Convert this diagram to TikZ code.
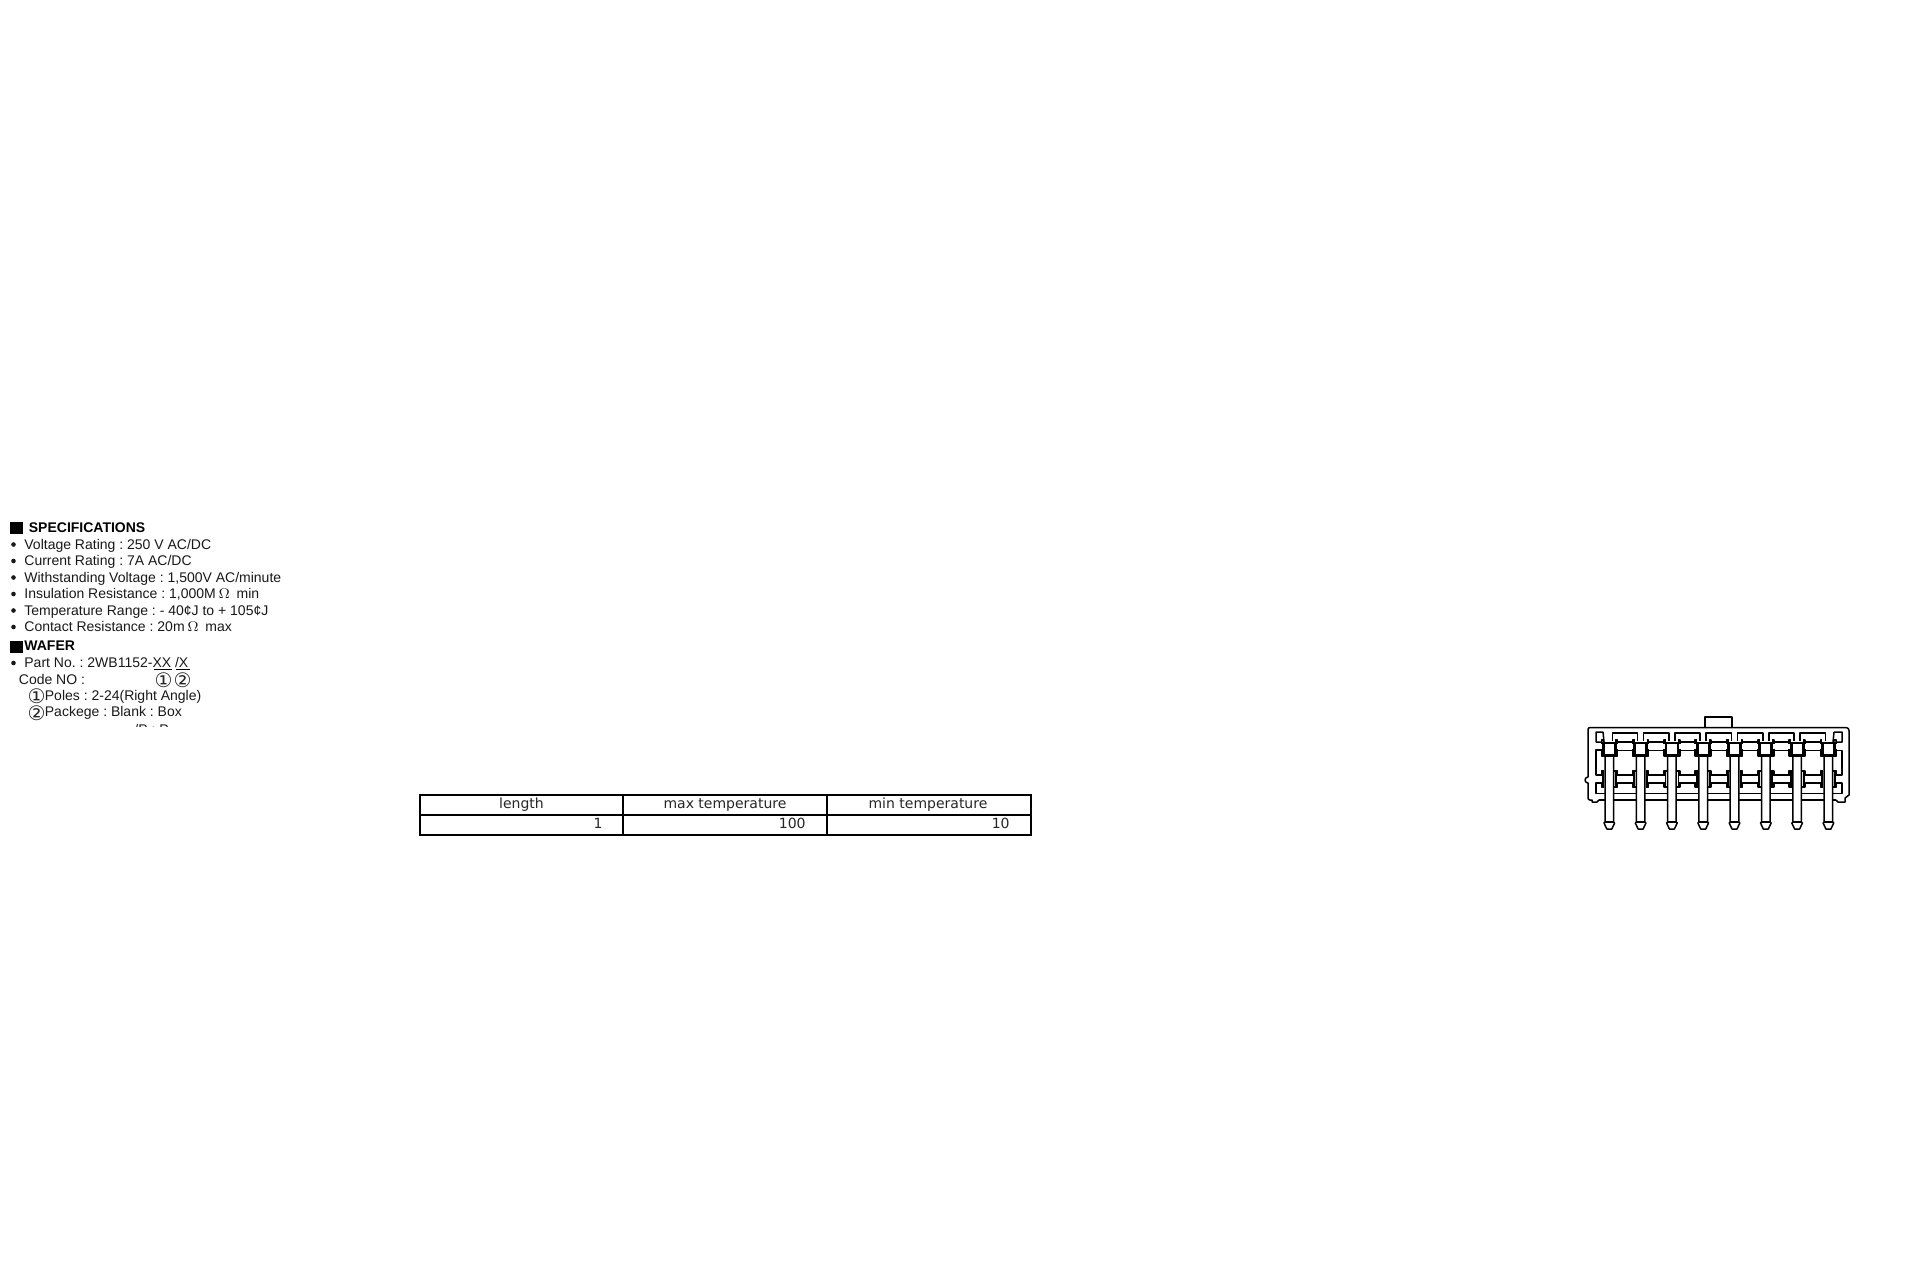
\documentclass[tikz,border=0pt]{standalone}
\usepackage{fontspec}
\setmainfont{Liberation Sans}
\newfontfamily\djv{DejaVu Sans}
\frenchspacing
\tikzset{
  spec/.style={anchor=base west,inner sep=0pt,font=\fontsize{7}{8}\selectfont,text=black!90},
  head/.style={anchor=base west,inner sep=0pt,font=\fontsize{7}{8}\selectfont\bfseries},
  cell/.style={inner sep=0pt,font=\djv\fontsize{7}{8}\selectfont,text=black!85},
  circ/.style={inner sep=0pt,font=\djv\fontsize{10}{10}\selectfont,text=black!85},
  bul/.style={circle,fill=black!90,inner sep=0pt,minimum size=2.3pt},
  part/.style={draw=black,line width=.75pt,line join=round},
  pinbody/.style={draw=black,fill=white,line width=.75pt,line join=round},
}
\begin{document}
\begin{tikzpicture}[x=.5pt,y=-.5pt]
\useasboundingbox[fill=white] (0,0) rectangle (1920,1280);
% text block
\fill[black] (10,522) rectangle (23,534);
\node[head] (t0) at (28.5,532.5) {SPECIFICATIONS};
\foreach \y/\t in {549/{Voltage Rating : 250 V AC/DC},565.5/{Current Rating : 7A AC/DC},582/{Withstanding Voltage : 1,500V AC/minute},598.5/{Insulation Resistance : 1,000M$\,\Omega\,$ min},615/{Temperature Range : - 40¢J to + 105¢J},631.5/{Contact Resistance : 20m$\,\Omega\,$ max}}{
  \node[bul] at (13.5,\y-4.5) {};
  \node[spec] at (24,\y) {\t};
}
\fill[black] (10,641) rectangle (23,653);
\node[head] (t1) at (24,650.5) {WAFER};
\node[bul] at (13.5,663) {};
\node[spec] (pn) at (24,667.5) {Part No. : 2WB1152-XX /X};
\draw[line width=.5pt] (154,669.5) -- (172,669.5) (176,669.5) -- (190,669.5);
\node[spec] at (18.5,684) {Code NO :};
\node[circ] at (163.5,680) {①};
\node[circ] at (182.5,680) {②};
\node[circ] at (36.5,696) {①};
\node[spec] at (44.5,700.5) {Poles : 2-24(Right Angle)};
\node[circ] at (36.5,713) {②};
\node[spec] at (44.5,716.5) {Packege : Blank : Box};
\begin{scope}
\clip (0,722) rectangle (300,726);
\node[spec] at (134,734) {/P : P};
\end{scope}
% table
\draw[line width=1pt] (420,795) rectangle (1031,835);
\draw[line width=.7pt] (420,815) -- (1031,815) (623,795) -- (623,835) (827,795) -- (827,835);
\node[cell,anchor=base] (c1) at (521.5,808.5) {length};
\node[cell,anchor=base] (c2) at (725,808.5) {max temperature};
\node[cell,anchor=base] (c3) at (928,808.5) {min temperature};
\node[cell,anchor=base east] (d1) at (603,828.5) {1};
\node[cell,anchor=base east] (d2) at (806,828.5) {100};
\node[cell,anchor=base east] (d3) at (1010,828.5) {10};
% connector: shell
\draw[part] (1705,727.5) -- (1705,717) -- (1732,717) -- (1732,727.5);
\draw[part] (1590,727.5) -- (1846,727.5) arc[start angle=-90,end angle=0,radius=3] -- (1849,795) -- (1845,798) -- (1845,802) -- (1838,802) -- (1836,800)
 (1590,727.5) arc[start angle=270,end angle=180,radius=2] -- (1588,777) arc[start angle=-90,end angle=-270,radius=3] -- (1588,798) arc[start angle=180,end angle=90,radius=2] -- (1592,800) -- (1592,802) -- (1597,802) -- (1599,800);
% side walls
\draw[part] (1603,732) -- (1596,732) -- (1596,742) -- (1603,742) (1603,732) -- (1604,742);
\draw[part] (1603,750) -- (1596,750) -- (1596,775) -- (1603,775);
\draw[part] (1603,783) -- (1596,783) -- (1596,793.5) -- (1603,793.5);
\draw[part] (1834,732) -- (1842,732) -- (1842,742) -- (1834,742) (1834,732) -- (1833,742);
\draw[part] (1835,750.5) -- (1842,750.5) -- (1842,775) -- (1835,775);
\draw[part] (1835,783) -- (1842,783) -- (1842,793.5) -- (1835,793.5);
\draw[part] (1599,793.5) -- (1836,793.5) (1599,800) -- (1836,800);
% windows and bars between the pins
\foreach \k in {0,...,6}{
  \pgfmathsetmacro\a{1609.3+31.3*\k+3}
  \pgfmathsetmacro\b{1609.3+31.3*(\k+1)-3}
  \draw[part] (\a,741) -- (\a,733) -- (\b,733) -- (\b,741);
  \draw[part] (\a+3,742) -- (\b-3,742) (\a+3,750.5) -- (\b-3,750.5)
              (\a+3,775) -- (\b-3,775) (\a+3,783) -- (\b-3,783);
}
% pins
\foreach \k in {0,...,7}{
  \pgfmathsetmacro\c{1609.3+31.3*\k}
  \draw[part] (\c-6,740) -- (\c-8,740) -- (\c-8,744) (\c+6,740) -- (\c+8,740) -- (\c+8,744)
              (\c-6,756) -- (\c-8,756) -- (\c-8,749) (\c+6,756) -- (\c+8,756) -- (\c+8,749);
  \draw[part] (\c-5,771) -- (\c-8,771) -- (\c-8,775) (\c+5,771) -- (\c+8,771) -- (\c+8,775)
              (\c-5,787) -- (\c-8,787) -- (\c-8,783) (\c+5,787) -- (\c+8,787) -- (\c+8,783);
  \draw[line width=.9pt] (\c-6.5,772) -- (\c-6.5,786) (\c+6.5,772) -- (\c+6.5,786);
  \draw[pinbody] (\c-4.3,750) -- (\c+4.3,750) -- (\c+4.3,822) -- (\c+5.3,823) -- (\c+2.5,829) -- (\c-2.5,829) -- (\c-5.3,823) -- (\c-4.3,822) -- cycle;
  \draw[part] (\c-4.3,822) -- (\c+4.3,822);
  \draw[line width=1.4pt,fill=white] (\c-6,743) rectangle (\c+6,755.5);
}
\end{tikzpicture}
\end{document}
